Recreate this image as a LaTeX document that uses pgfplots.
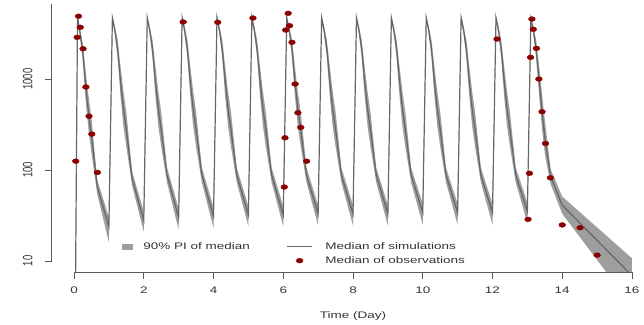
\documentclass[border=0pt]{standalone}
\usepackage{fontspec}
\setmainfont[FakeStretch=1.42]{Liberation Sans}
\newfontfamily\plainfont{Liberation Sans}
\usepackage{graphicx}
\usepackage{pgfplots}
\usepackage{pgfplotstable}
\pgfplotsset{compat=1.18}
\usepgfplotslibrary{fillbetween}

\definecolor{bandgray}{gray}{0.62}
\definecolor{medgray}{gray}{0.40}
\definecolor{obsred}{RGB}{140,0,0}
\definecolor{axgray}{gray}{0.35}

\pgfplotstableread{
t med lo hi
0.035 2 1.5 2.5
0.1 4800 4570 5040
0.167 3300 3000 3630
0.25 2000 1600 2500
0.333 850 590 1230
0.417 420 270 650
0.5 240 155 370
0.667 65 54 78
1 24 16 30
1.1 4700 4476 4935
1.167 3500 3182 3850
1.25 2150 1720 2690
1.333 950 655 1380
1.417 470 303 730
1.5 280 181 434
1.667 80 67 96
2 28 21 35
2.1 4700 4476 4935
2.167 3500 3182 3850
2.25 2150 1720 2690
2.333 950 655 1380
2.417 470 303 730
2.5 280 181 434
2.667 88 73 106
3 30 22 38
3.1 4700 4476 4935
3.167 3500 3182 3850
3.25 2150 1720 2690
3.333 950 655 1380
3.417 470 303 730
3.5 280 181 434
3.667 88 73 106
4 31 23 39
4.1 4700 4476 4935
4.167 3500 3182 3850
4.25 2150 1720 2690
4.333 950 655 1380
4.417 470 303 730
4.5 280 181 434
4.667 88 73 106
5 32 24 40
5.1 4700 4476 4935
5.167 3500 3182 3850
5.25 2150 1720 2690
5.333 950 655 1380
5.417 470 303 730
5.5 280 181 434
5.667 88 73 106
6 32 24 40
6.1 4700 4476 4935
6.167 3500 3182 3850
6.25 2150 1720 2690
6.333 950 655 1380
6.417 470 303 730
6.5 280 181 434
6.667 88 73 106
7 33 24.5 41
7.1 4700 4476 4935
7.167 3500 3182 3850
7.25 2150 1720 2690
7.333 950 655 1380
7.417 470 303 730
7.5 280 181 434
7.667 88 73 106
8 33 24.5 41
8.1 4700 4476 4935
8.167 3500 3182 3850
8.25 2150 1720 2690
8.333 950 655 1380
8.417 470 303 730
8.5 280 181 434
8.667 88 73 106
9 33 24.5 41
9.1 4700 4476 4935
9.167 3500 3182 3850
9.25 2150 1720 2690
9.333 950 655 1380
9.417 470 303 730
9.5 280 181 434
9.667 88 73 106
10 34 25 42.5
10.1 4700 4476 4935
10.167 3500 3182 3850
10.25 2150 1720 2690
10.333 950 655 1380
10.417 470 303 730
10.5 280 181 434
10.667 88 73 106
11 34 25 42.5
11.1 4700 4476 4935
11.167 3500 3182 3850
11.25 2150 1720 2690
11.333 950 655 1380
11.417 470 303 730
11.5 280 181 434
11.667 88 73 106
12 34 25 42.5
12.1 4700 4476 4935
12.167 3500 3182 3850
12.25 2150 1720 2690
12.333 950 655 1380
12.417 470 303 730
12.5 280 181 434
12.667 88 73 106
13 35 26 44
13.1 4600 4380 4830
13.167 3500 3182 3850
13.25 2150 1720 2690
13.333 1000 690 1450
13.417 450 290 700
13.5 230 150 357
13.667 85 70 102
14 41 33 51
16 6.9 3.2 10.7
}\simdata

\pgfplotstableread{
t obs
0.05 125
0.09 2870
0.13 4900
0.18 3700
0.26 2150
0.34 817
0.43 390
0.51 248
0.67 94
3.13 4230
4.12 4200
5.13 4680
6.03 65
6.05 226
6.07 3450
6.14 5270
6.18 3850
6.25 2530
6.34 881
6.42 426
6.50 294
6.67 125
12.13 2750
13.02 28.7
13.06 92
13.09 1730
13.13 4560
13.17 3515
13.26 2170
13.33 1000
13.42 437
13.52 196
13.66 82
14.0 24.9
14.51 23.2
15.0 11.6
}\obsdata

\begin{document}
\begin{tikzpicture}
\begin{axis}[
  at={(51.7pt,52pt)}, anchor=south west,
  scale only axis, width=602.6pt, height=282pt,
  xmin=-0.64, xmax=16.64,
  ymode=log, ymin=7.57, ymax=9510,
  axis lines*=left,
  axis line style={draw=none},
  tick align=outside,
  major tick length=7pt,
  tick style={color=axgray, line width=0.7pt},
  minor y tick style={draw=none},
  xtick={0,2,4,6,8,10,12,14,16},
  ytick={10,100,1000},
  yticklabels={{\plainfont\scalebox{1}[1.42]{10}},{\plainfont\scalebox{1}[1.42]{100}},{\plainfont\scalebox{1}[1.42]{1000}}},
  yticklabel style={xshift=-12pt, rotate=90, anchor=south, inner sep=0pt, text=black!80},
  xticklabel style={anchor=base, inner sep=0pt, yshift=-14pt, text=black!80},
  font=\fontsize{9.5}{11}\selectfont,
  /pgf/number format/assume math mode=true,
  xlabel={Time (Day)},
  xlabel style={at={(axis description cs:0.5,0)}, anchor=base, yshift=-46pt, inner sep=0pt, text=black!80},
  clip mode=individual,
  legend columns=2,
  legend style={draw=none, fill=none, inner sep=0pt,
    at={(axis description cs:0.1162,0.1032)}, anchor=north west,
    nodes={inner sep=0pt, anchor=base west, text=black!80},
    column sep=0pt, row sep=5.6pt,
    font=\fontsize{9.5}{11}\selectfont},
]
\addlegendimage{legend image code/.code={\fill[bandgray] (0pt,0.8pt) rectangle (10pt,5.8pt); \path[draw=none, fill=none] (0pt,3pt) -- (21.3pt,3pt);}}
\addlegendentry{90\% PI of median\kern36.7pt}
\addlegendimage{legend image code/.code={\draw[medgray, line width=1pt] (0pt,3.3pt) -- (25pt,3.3pt); \path[draw=none, fill=none] (0pt,3pt) -- (38.3pt,3pt);}}
\addlegendentry{Median of simulations}
\addlegendimage{empty legend}
\addlegendentry{}
\addlegendimage{legend image code/.code={\fill[obsred] (12.5pt,3.3pt) ellipse (3.4pt and 2.4pt); \path[draw=none, fill=none] (0pt,3pt) -- (38.3pt,3pt);}}
\addlegendentry{Median of observations}

\addplot[draw=none, name path=hi, forget plot] table[x=t, y=hi] {\simdata};
\addplot[draw=none, name path=lo, forget plot] table[x=t, y=lo] {\simdata};
\addplot[fill=bandgray, draw=none, forget plot] fill between[of=hi and lo];
\addplot[medgray, line width=1.2pt, forget plot] table[x=t, y=med] {\simdata};
\addplot[only marks, mark=*, mark size=2.4pt, color=obsred,
  mark options={xscale=1.42, draw=none, fill=obsred}, forget plot] table[x=t, y=obs] {\obsdata};

\draw[axgray, line width=0.8pt] (axis cs:0,7.57) -- (axis cs:16,7.57);
\draw[axgray, line width=0.8pt] (axis cs:-0.64,10) -- (axis cs:-0.64,6670);
\end{axis}
\pgfresetboundingbox
\useasboundingbox (0,0) rectangle (644pt,324pt);
\end{tikzpicture}
\end{document}
